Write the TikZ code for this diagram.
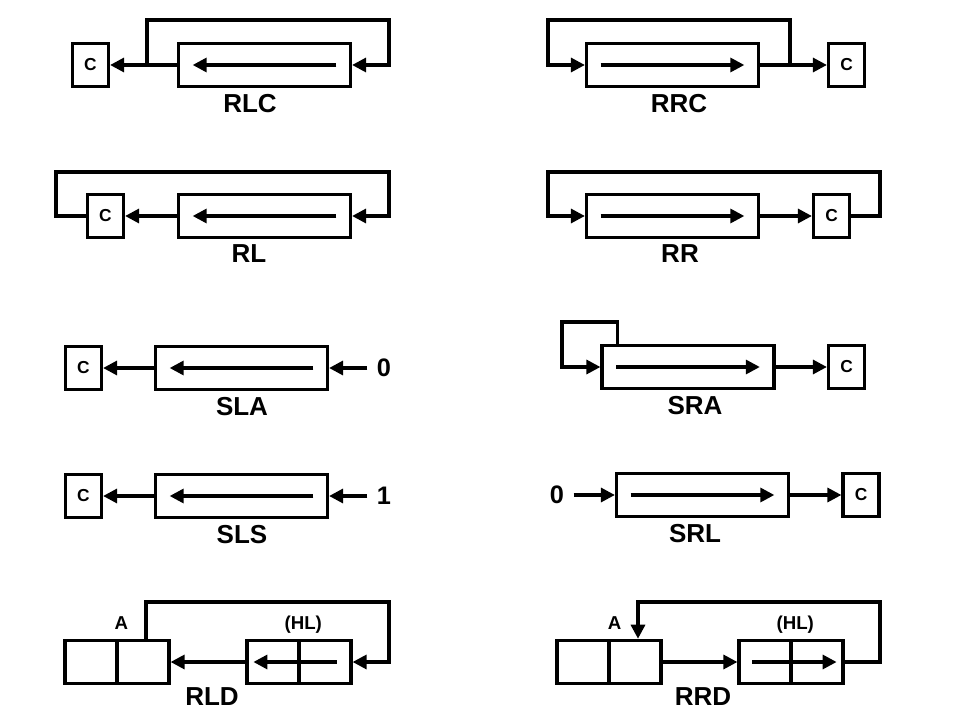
\documentclass[tikz,border=0pt]{standalone}
\usepackage{fontspec}
\setmainfont{Liberation Sans}
\usetikzlibrary{positioning,calc,arrows.meta}

\begin{document}
\begin{tikzpicture}[x=0.75pt, y=-0.75pt, line width=2.4pt,
		>={Triangle[length=10.5pt,width=10.5pt]},
		reg/.style={draw, minimum width=129pt, minimum height=32.5pt, inner sep=0pt},
		cbox/.style={draw, minimum width=27pt, minimum height=32.5pt, inner sep=0pt, font=\fontsize{13}{13}\selectfont\bfseries},
		cell/.style={draw, minimum width=39pt, minimum height=32.5pt, inner sep=0pt},
		opname/.style={font=\fontsize{19.5}{20}\selectfont\bfseries},
		bitval/.style={font=\fontsize{19}{20}\selectfont\bfseries, inner sep=6pt},
		celltag/.style={font=\fontsize{14}{14}\selectfont\bfseries, inner sep=1pt, text depth=0pt}]
		\useasboundingbox (0,0) rectangle (960,720);
		
		\node[cbox] (cRLC) at (90.5,65) {C};
		\node[reg] (rRLC) at (264.5,65) {};
		\node[opname] (lRLC) at (250,104) {RLC};
		\coordinate (jRLC) at (147,65);
		\coordinate (tRLC) at (389,20);
		\draw[->] (rRLC.west) -- (cRLC.east);
		\draw[->] (jRLC) |- (tRLC) |- (rRLC.east);
		\draw[->] ($(rRLC.east)!0.09!(rRLC.west)$) -- ($(rRLC.west)!0.09!(rRLC.east)$);
		
		\node[reg] (rRRC) at (672.5,65) {};
		\node[cbox] (cRRC) at (846.5,65) {C};
		\node[opname] (lRRC) at (679,104) {RRC};
		\coordinate (jRRC) at (790,65);
		\coordinate (tRRC) at (548,20);
		\draw[->] (rRRC.east) -- (cRRC.west);
		\draw[->] (jRRC) |- (tRRC) |- (rRRC.west);
		\draw[->] ($(rRRC.west)!0.09!(rRRC.east)$) -- ($(rRRC.east)!0.09!(rRRC.west)$);
		
		\node[cbox] (cRL) at (105.5,216) {C};
		\node[reg] (rRL) at (264.5,216) {};
		\node[opname] (lRL) at (249,254) {RL};
		\coordinate (tlRL) at (56,172);
		\coordinate (trRL) at (389,172);
		\draw[->] (rRL.west) -- (cRL.east);
		\draw[->] (cRL.west) -| (tlRL) -- (trRL) |- (rRL.east);
		\draw[->] ($(rRL.east)!0.09!(rRL.west)$) -- ($(rRL.west)!0.09!(rRL.east)$);
		
		\node[reg] (rRR) at (672.5,216) {};
		\node[cbox] (cRR) at (831.5,216) {C};
		\node[opname] (lRR) at (680,254) {RR};
		\coordinate (trRR) at (880,172);
		\coordinate (tlRR) at (548,172);
		\draw[->] (rRR.east) -- (cRR.west);
		\draw[->] (cRR.east) -| (trRR) -- (tlRR) |- (rRR.west);
		\draw[->] ($(rRR.west)!0.09!(rRR.east)$) -- ($(rRR.east)!0.09!(rRR.west)$);
		
		\node[cbox] (cSLA) at (83.5,368) {C};
		\node[reg] (rSLA) at (241.5,368) {};
		\node[bitval] (zSLA) at (384,368) {0};
		\node[opname] (lSLA) at (242,407) {SLA};
		\draw[->] (rSLA.west) -- (cSLA.east);
		\draw[->] (zSLA) -- (rSLA.east);
		\draw[->] ($(rSLA.east)!0.09!(rSLA.west)$) -- ($(rSLA.west)!0.09!(rSLA.east)$);
		
		\node[reg] (rSRA) at (688,367) {};
		\node[cbox] (cSRA) at (846.5,367) {C};
		\node[opname] (lSRA) at (695,406) {SRA};
		\coordinate (jSRA) at ($(rSRA.north west)+(17,0)$);
		\coordinate (tSRA) at (562,322);
		\draw[->] (rSRA.east) -- (cSRA.west);
		\draw[->] (jSRA) |- (tSRA) |- (rSRA.west);
		\draw[->] ($(rSRA.west)!0.09!(rSRA.east)$) -- ($(rSRA.east)!0.09!(rSRA.west)$);
		
		\node[cbox] (cSLS) at (83.5,496) {C};
		\node[reg] (rSLS) at (241.5,496) {};
		\node[bitval] (zSLS) at (384,496) {1};
		\node[opname] (lSLS) at (242,535) {SLS};
		\draw[->] (rSLS.west) -- (cSLS.east);
		\draw[->] (zSLS) -- (rSLS.east);
		\draw[->] ($(rSLS.east)!0.09!(rSLS.west)$) -- ($(rSLS.west)!0.09!(rSLS.east)$);
		
		\node[bitval] (zSRL) at (557,495) {0};
		\node[reg] (rSRL) at (702.5,495) {};
		\node[cbox] (cSRL) at (861,495) {C};
		\node[opname] (lSRL) at (695,534) {SRL};
		\draw[->] (zSRL) -- (rSRL.west);
		\draw[->] (rSRL.east) -- (cSRL.west);
		\draw[->] ($(rSRL.west)!0.09!(rSRL.east)$) -- ($(rSRL.east)!0.09!(rSRL.west)$);
		
		\node[cell] (aRLD1) at (91,662) {};
		\node[cell, right=-2.4pt of aRLD1] (aRLD2) {};
		\node[cell] (hRLD1) at (273,662) {};
		\node[cell, right=-2.4pt of hRLD1] (hRLD2) {};
		\node[celltag, above=5pt of aRLD1.north east, xshift=2pt] (tRLDa) {A};
		\node[celltag, above=5pt of hRLD1.north east, xshift=2pt] (tRLDh) {(HL)};
		\node[opname] (lRLD) at (212,697) {RLD};
		\coordinate (jRLD) at ($(aRLD2.north)+(3,0)$);
		\coordinate (tRLD) at (389,602);
		\draw[->] (hRLD1.west) -- (aRLD2.east);
		\draw[->] (jRLD) |- (tRLD) |- (hRLD2.east);
		\draw[->] ($(hRLD2.east)+(-16,0)$) -- ($(hRLD1.west)+(8,0)$);
		
		\node[cell] (aRRD1) at (583,662) {};
		\node[cell, right=-2.4pt of aRRD1] (aRRD2) {};
		\node[cell] (hRRD1) at (765,662) {};
		\node[cell, right=-2.4pt of hRRD1] (hRRD2) {};
		\node[celltag, above=5pt of aRRD1.north east, xshift=3pt] (tRRDa) {A};
		\node[celltag, above=5pt of hRRD1.north east, xshift=2pt] (tRRDh) {(HL)};
		\node[opname] (lRRD) at (703,697) {RRD};
		\coordinate (jRRD) at (880,602);
		\draw[->] (aRRD2.east) -- (hRRD1.west);
		\draw[->] (hRRD2.east) -| (jRRD) -| ($(aRRD2.north)+(3,0)$);
		\draw[->] ($(hRRD1.west)+(15,0)$) -- ($(hRRD2.east)+(-8,0)$);
\end{tikzpicture}
\end{document}
